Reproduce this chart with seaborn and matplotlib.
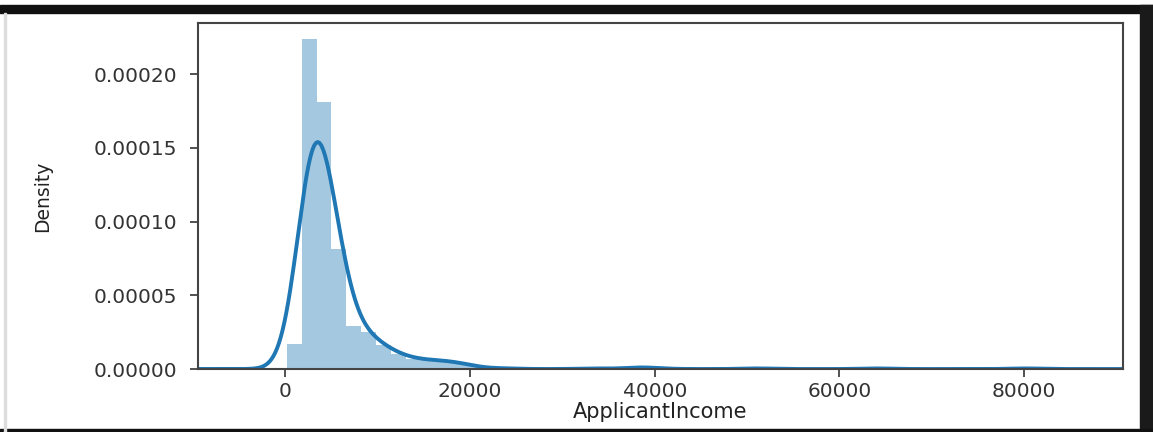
import numpy as np
import pandas as pd
import matplotlib
matplotlib.use('Agg')
import matplotlib.pyplot as plt
import seaborn as sns
from matplotlib.patches import Rectangle

# =====================================================
# DATA (50 bins 150..81000)
# =====================================================
income_min = 150
income_max = 81000
n_bins = 50

# number of applicants per bin (bins with no bar are 0)
bin_counts = [
    17, 222, 180, 81, 29, 25, 16, 10, 7, 6,
    6, 5, 2, 0, 1, 0, 0, 0, 0, 0,
    1, 0, 0, 2, 1, 0, 0, 0, 0, 0,
    0, 1, 0, 0, 0, 0, 0, 0, 0, 1,
    0, 0, 0, 0, 0, 0, 0, 0, 0, 1,
]

x_ticks = [0, 20000, 40000, 60000, 80000]
y_ticks = [0.0, 0.00005, 0.00010, 0.00015, 0.00020]

# =====================================================
# BUILD FRAME
# =====================================================
edges = np.linspace(income_min, income_max, n_bins + 1)
centers = (edges[:-1] + edges[1:]) / 2
df = pd.DataFrame({'ApplicantIncome': centers, 'count': bin_counts})
n_obs = df['count'].sum()

# =====================================================
# PLOT
# =====================================================
blue = '#1f77b4'
fig = plt.figure(figsize=(11.53, 4.32), dpi=100)
ax = fig.add_axes([0.1717, 0.1458, 0.8023, 0.801])

sns.histplot(
    ax=ax, data=df, x='ApplicantIncome', weights='count',
    bins=list(edges), stat='density', color=blue, alpha=0.4, linewidth=0
)
sns.kdeplot(
    ax=ax, data=df, x='ApplicantIncome', weights='count',
    bw_method=n_obs ** (-1 / 5), bw_adjust=0.86, cut=3.6, gridsize=600,
    color=blue, linewidth=2.8
)

ax.set_xlim(-9450, 90700)
ax.set_xticks(x_ticks)
ax.set_yticks(y_ticks)
ax.set_xticklabels([str(t) for t in x_ticks])
ax.set_yticklabels([f'{t:.5f}' for t in y_ticks])
ax.tick_params(labelsize=14.5, length=6, width=1.2, colors='#333333')
ax.tick_params(axis='x', pad=3)
ax.tick_params(axis='y', pad=9)
ax.set_xlabel('ApplicantIncome', fontsize=15, color='#222222', labelpad=1)
ax.set_ylabel('Density', fontsize=13.5, color='#222222', labelpad=30)
for s in ax.spines.values():
    s.set_color('#444444')
    s.set_linewidth(1.5)

# screenshot frame around the chart
fig.patches.append(Rectangle((0, 419 / 432), 1, 8 / 432, transform=fig.transFigure,
                             color='#111111', zorder=5))
fig.patches.append(Rectangle((1140 / 1153, 0), 13 / 1153, 427 / 432,
                             transform=fig.transFigure, color='#1a1a1a', zorder=5))
fig.patches.append(Rectangle((0, 0), 1, 3 / 432, transform=fig.transFigure,
                             color='#111111', zorder=5))
fig.patches.append(Rectangle((4 / 1153, 0), 1.5 / 1153, 419 / 432,
                             transform=fig.transFigure, color='#dddddd', zorder=5))

fig.savefig('out.png', dpi=100)
plt.close()
